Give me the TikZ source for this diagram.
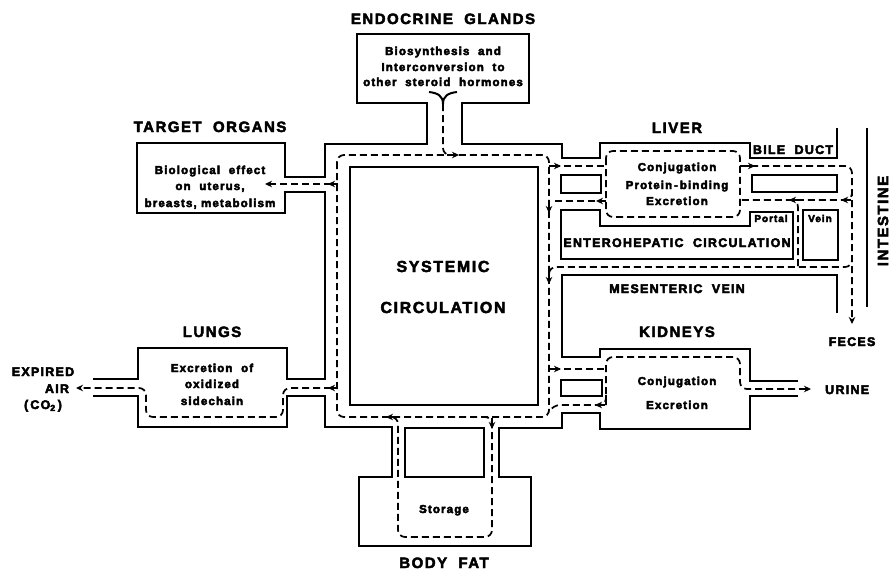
\documentclass[tikz,border=0pt]{standalone}
\usepackage{fontspec}
\setmainfont{Liberation Sans}
\newfontfamily\lf{Liberation Sans}[LetterSpace=10]
\usetikzlibrary{arrows.meta}
\begin{document}
\begin{tikzpicture}[x=1pt,y=-1pt,
  wall/.style={line width=2.7pt, line join=miter},
  flow/.style={line width=1.7pt, dash pattern=on 7pt off 4pt, rounded corners=7pt},
  arrowmark/.style={line width=1.7pt, -{Stealth[length=7pt,width=6.5pt]}},
  endarrow/.style={-{Stealth[length=7pt,width=6.5pt]}},
  heavy/.style={inner sep=0pt, anchor=base,
    execute at begin node={\special{pdf:literal direct 2 Tr 0.45 w}},
    execute at end node={\special{pdf:literal direct 0 Tr}}},
  labbig/.style={heavy, font=\lf\bfseries\fontsize{15}{17}\selectfont},
  labsys/.style={heavy, font=\lf\bfseries\fontsize{16}{18}\selectfont},
  labmed/.style={heavy, font=\lf\bfseries\fontsize{12.5}{14}\selectfont},
  labsml/.style={heavy, font=\lf\bfseries\fontsize{11.5}{13}\selectfont},
  labtiny/.style={heavy, font=\lf\bfseries\fontsize{10}{12}\selectfont}
]
\useasboundingbox (0,0) rectangle (895,574);

% ---- walls ----
\draw[wall] (93,396) -- (138,396) -- (138,427) -- (287,427) -- (287,396) -- (325,396) -- (325,427) -- (392,427) -- (392,477) -- (359,477) -- (359,546) -- (531,546) -- (531,477) -- (499,477) -- (499,428) -- (562,428) -- (562,413) -- (600,413) -- (600,429) -- (750,429) -- (750,396) -- (798,396);
\draw[wall] (798,381) -- (750,381) -- (750,349) -- (600,349) -- (600,357) -- (562,357) -- (562,275) -- (837,275) -- (837,313);
\draw[wall] (93,379) -- (138,379) -- (138,348) -- (287,348) -- (287,379) -- (325,379) -- (325,192) -- (285,192) -- (285,213) -- (137,213) -- (137,143) -- (285,143) -- (285,177) -- (325,177) -- (325,144) -- (427,144) -- (427,103) -- (357,103) -- (357,34) -- (529,34) -- (529,103) -- (462,103) -- (462,144) -- (562,144) -- (562,158) -- (600,158) -- (600,143) -- (750,143) -- (750,158) -- (837,158) -- (837,128);
\draw[wall] (561,210) -- (600,210) -- (600,226) -- (750,226) -- (750,212) -- (793,212) -- (793,259) -- (561,259) -- cycle;
\draw[wall] (561,175) rectangle (601,193);
\draw[wall] (752,175) rectangle (837,192);
\draw[wall] (803,210) rectangle (838,260);
\draw[wall] (561,380) rectangle (602,396);
\draw[wall] (405,428) rectangle (484,477);
\draw[wall] (350,167) rectangle (538,405);
\draw[wall] (867,128) -- (867,307);

% ---- endocrine junction ----
\draw[line width=2pt] (429,92) .. controls (438,93) and (443,96) .. (443,104) .. controls (443,96) and (448,93) .. (457,92);

% ---- flows ----
\draw[flow] (337,155) rectangle (549,417);
\draw[flow] (443,104) -- (443,155) -- (452,155);
\draw[arrowmark] (447,155) -- (459,155);

% target organs
\draw[flow, endarrow] (331,184) -- (265,184);
\draw[arrowmark] (338,184) -- (328,184);

% lungs
\draw[flow, endarrow] (331,388) -- (283,388) -- (283,417) -- (146,417) -- (146,388) -- (76,388);
\draw[arrowmark] (338,388) -- (328,388);

% body fat
\draw[flow] (482,417) -- (492,417) -- (492,537) -- (398,537) -- (398,417) -- (392,417);
\draw[arrowmark] (397,417) -- (386,417);
\draw[arrowmark] (492,418) -- (492,429);

% liver
\draw[flow] (553,166) -- (606,166);
\draw[arrowmark] (549,166) -- (561,166);
\draw[flow] (606,151) rectangle (740,217);
\draw[flow] (606,201) -- (553,201);
\draw[arrowmark] (606,201) -- (596,201);
\draw[arrowmark] (549,202) -- (549,213);
\draw[flow, endarrow] (740,166) -- (852,166) -- (852,324);
\draw[arrowmark] (742,166) -- (755,166);
\draw[flow] (852,190) -- (852,200) -- (740,200);
\draw[arrowmark] (851,200) -- (841,200);
\draw[arrowmark] (800,200) -- (789,200);
\draw[flow] (798,266) -- (798,200) -- (790,200);
\draw[flow] (852,255) -- (852,267) -- (549,267) -- (549,280);
\draw[arrowmark] (549,272) -- (549,284);

% kidneys
\draw[flow] (553,369) -- (606,369);
\draw[arrowmark] (549,369) -- (561,369);
\draw[flow, endarrow] (606,405) -- (606,357) -- (740,357) -- (740,389) -- (811,389);
\draw[flow] (606,395) -- (606,405) -- (553,405) -- (549,412);
\draw[arrowmark] (605,405) -- (595,405);

% ---- labels ----
\node[labbig] (endo) at (443,24) {ENDOCRINE\ \ GLANDS};
\node[labsml] (endo1) at (443,55) {Biosynthesis\ \ and};
\node[labsml] (endo2) at (443,71) {Interconversion\ \ to};
\node[labsml] (endo3) at (443,86) {other\ \ steroid\ \ hormones};

\node[labbig] (target) at (210,132) {TARGET\ \ ORGANS};
\node[labsml] (tg1) at (210,174) {Biological\ \ effect};
\node[labsml] (tg2) at (210,190) {on\ \ uterus,};
\node[labsml] (tg3) at (210,207) {breasts,\ metabolism};

\node[labbig] (liver) at (677,133) {LIVER};
\node[labsml] (lv1) at (677,171) {Conjugation};
\node[labsml] (lv2) at (677,189) {Protein\,-\,binding};
\node[labsml] (lv3) at (677,205) {Excretion};
\node[labmed] (bile) at (793,154) {BILE\ \ DUCT};
\node[labtiny] (portal) at (771,222) {Portal};
\node[labtiny] (vein) at (820,222) {Vein};
\node[labmed] (entero) at (677,247) {ENTEROHEPATIC\ \ CIRCULATION};
\node[labmed] (mesen) at (677,293) {MESENTERIC\ \ VEIN};
\node[labbig, anchor=center, rotate=90] (intest) at (883,221) {INTESTINE};
\node[labmed] (feces) at (852,346) {FECES};

\node[labbig] (kidneys) at (677,337) {KIDNEYS};
\node[labsml] (kd1) at (677,385) {Conjugation};
\node[labsml] (kd2) at (677,409) {Excretion};
\node[labmed, anchor=base west] (urine) at (825,394) {URINE};

\node[labsys] (sys1) at (443,272) {SYSTEMIC};
\node[labsys] (sys2) at (443,313) {CIRCULATION};

\node[labbig] (lungs) at (212,337) {LUNGS};
\node[labsml] (lg1) at (212,372) {Excretion\ \ of};
\node[labsml] (lg2) at (212,388) {oxidized};
\node[labsml] (lg3) at (212,405) {sidechain};
\node[labmed] (exp1) at (43,376) {EXPIRED};
\node[labmed] (exp2) at (57,393) {AIR};
\node[labmed] (exp3) at (43,409) {(\,CO\textsubscript{2}\,)};

\node[labsml] (storage) at (444,513) {Storage};
\node[labbig] (fat) at (444,568) {BODY\ \ FAT};
\end{tikzpicture}
\end{document}
